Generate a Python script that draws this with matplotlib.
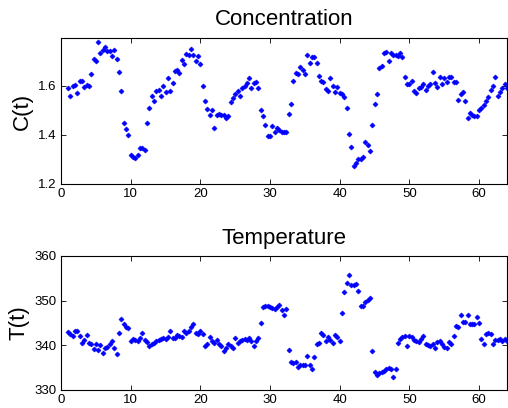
import matplotlib
matplotlib.use("Agg")
import matplotlib.pyplot as plt
import numpy as np

plt.rcParams.update({
    "font.family": ["Liberation Sans", "DejaVu Sans"],
    "xtick.direction": "in",
    "ytick.direction": "in",
    "xtick.top": True,
    "ytick.right": True,
    "xtick.labelsize": 9.5,
    "ytick.labelsize": 9.5,
    "axes.linewidth": 0.8,
})

# sampling: t = 1, 1 1/3, 1 2/3, ... 64
T_START = 1.0
T_STEP = 1.0 / 3.0

# concentration C(t), three samples per time unit
conc = [
    1.59, 1.56, 1.60,
    1.605, 1.57, 1.62,
    1.62, 1.595, 1.605,
    1.60, 1.65, 1.71,
    1.70, 1.78, 1.735,
    1.745, 1.76, 1.74,
    1.74, 1.72, 1.745,
    1.71, 1.655, 1.58,
    1.45, 1.425, 1.40,
    1.32, 1.31, 1.307,
    1.32, 1.345, 1.345,
    1.34, 1.45, 1.51,
    1.56, 1.54, 1.58,
    1.585, 1.56, 1.60,
    1.575, 1.63, 1.58,
    1.61, 1.66, 1.666,
    1.652, 1.707, 1.69,
    1.728, 1.725, 1.75,
    1.725, 1.70, 1.72,
    1.69, 1.60, 1.538,
    1.505, 1.48, 1.50,
    1.428, 1.48, 1.487,
    1.48, 1.483, 1.467,
    1.478, 1.533, 1.55,
    1.566, 1.58, 1.559,
    1.59, 1.60, 1.611,
    1.632, 1.59, 1.611,
    1.615, 1.592, 1.50,
    1.478, 1.442, 1.394,
    1.394, 1.436, 1.41,
    1.428, 1.42, 1.41,
    1.41, 1.41, 1.485,
    1.525, 1.618, 1.652,
    1.648, 1.678, 1.666,
    1.648, 1.725, 1.694,
    1.716, 1.716, 1.694,
    1.642, 1.618, 1.615,
    1.588, 1.58, 1.634,
    1.60, 1.574, 1.596,
    1.57, 1.566, 1.556,
    1.508, 1.405, 1.35,
    1.274, 1.285, 1.30,
    1.30, 1.31, 1.373,
    1.36, 1.336, 1.44,
    1.525, 1.566, 1.673,
    1.68, 1.733, 1.739,
    1.70, 1.733, 1.725,
    1.725, 1.72, 1.735,
    1.716, 1.638, 1.607,
    1.607, 1.62, 1.58,
    1.57, 1.592, 1.596,
    1.607, 1.583, 1.60,
    1.607, 1.656, 1.611,
    1.596, 1.638, 1.607,
    1.632, 1.615, 1.638,
    1.638, 1.615, 1.615,
    1.542, 1.566, 1.574,
    1.538, 1.47, 1.49,
    1.48, 1.478, 1.478,
    1.50, 1.508, 1.52,
    1.538, 1.556, 1.583,
    1.60, 1.638, 1.56,
    1.574, 1.59, 1.607,
    1.59,
]

# temperature T(t), same sampling
temp = [
    342.9, 342.6, 342.0,
    343.1, 343.1, 342.0,
    340.5, 341.3, 342.4,
    340.5, 340.4, 339.1,
    340.2, 338.9, 340.0,
    338.3, 339.5, 339.6,
    340.2, 341.0, 339.5,
    338.0, 342.8, 345.8,
    344.7, 344.2, 343.9,
    341.0, 341.5, 341.3,
    341.0, 341.7, 342.8,
    341.3, 340.8, 339.8,
    340.2, 340.6, 341.0,
    341.3, 341.5, 341.7,
    341.5, 341.9, 343.1,
    341.7, 341.6, 342.4,
    342.0, 341.9, 343.3,
    342.8, 343.1, 344.1,
    344.7, 342.8, 342.6,
    343.1, 342.6, 339.8,
    340.4, 341.9, 341.0,
    340.5, 341.3, 340.2,
    339.8, 338.8, 339.3,
    340.2, 339.8, 339.5,
    341.7, 340.5, 341.0,
    341.3, 341.5, 341.3,
    341.7, 341.0, 339.9,
    341.0, 341.7, 345.0,
    348.5, 348.7, 348.7,
    348.5, 348.3, 348.2,
    348.5, 349.1, 347.8,
    346.9, 348.2, 338.9,
    336.2, 336.1, 336.3,
    335.2, 335.7, 335.6,
    335.6, 337.6, 335.6,
    334.8, 337.3, 340.4,
    340.5, 342.8, 342.4,
    341.0, 341.9, 341.3,
    340.5, 342.4, 341.9,
    341.0, 347.3, 351.9,
    353.9, 355.8, 353.6,
    353.6, 353.7, 352.2,
    348.7, 348.9, 349.6,
    350.1, 350.6, 338.7,
    334.0, 333.3, 333.7,
    334.1, 334.3, 334.6,
    335.0, 334.8, 333.0,
    334.8, 340.5, 341.5,
    341.9, 342.0, 339.8,
    342.2, 341.9, 341.3,
    341.0, 340.8, 341.5,
    342.0, 340.2, 340.0,
    339.8, 340.2, 339.3,
    340.8, 341.0, 340.2,
    339.6, 339.3, 340.8,
    340.2, 342.2, 344.4,
    344.1, 346.7, 345.3,
    345.2, 346.7, 344.8,
    344.8, 344.8, 346.4,
    345.0, 341.5, 340.4,
    342.6, 342.8, 342.6,
    340.2, 341.3, 341.3,
    341.5, 341.0, 341.5,
    341.0,
]

t = T_START + T_STEP * np.arange(len(conc))

fig = plt.figure(figsize=(5.08, 4.08), dpi=100)
ax1 = fig.add_axes([61 / 508, 1 - 184 / 408, 446 / 508, 146 / 408])
ax2 = fig.add_axes([61 / 508, 1 - 390 / 408, 446 / 508, 134 / 408])

mk = dict(linestyle="none", marker="D", markersize=2.6, color="blue",
          markeredgewidth=0.4)

ax1.plot(t, conc, **mk)
ax1.set_xlim(0, 64)
ax1.set_ylim(1.2, 1.795)
ax1.set_yticks([1.2, 1.4, 1.6])
ax1.set_xticks([0, 10, 20, 30, 40, 50, 60])
ax1.set_title("Concentration", fontsize=16, pad=9)
ax1.set_ylabel("C(t)", fontsize=16, labelpad=4)

ax2.plot(t, temp, **mk)
ax2.set_xlim(0, 64)
ax2.set_ylim(330, 360)
ax2.set_yticks([330, 340, 350, 360])
ax2.set_xticks([0, 10, 20, 30, 40, 50, 60])
ax2.set_title("Temperature", fontsize=16, pad=9)
ax2.set_ylabel("T(t)", fontsize=16, labelpad=4)

for ax in (ax1, ax2):
    ax.tick_params(length=3.5, width=0.6, pad=3)

fig.savefig("out.png", dpi=100)
